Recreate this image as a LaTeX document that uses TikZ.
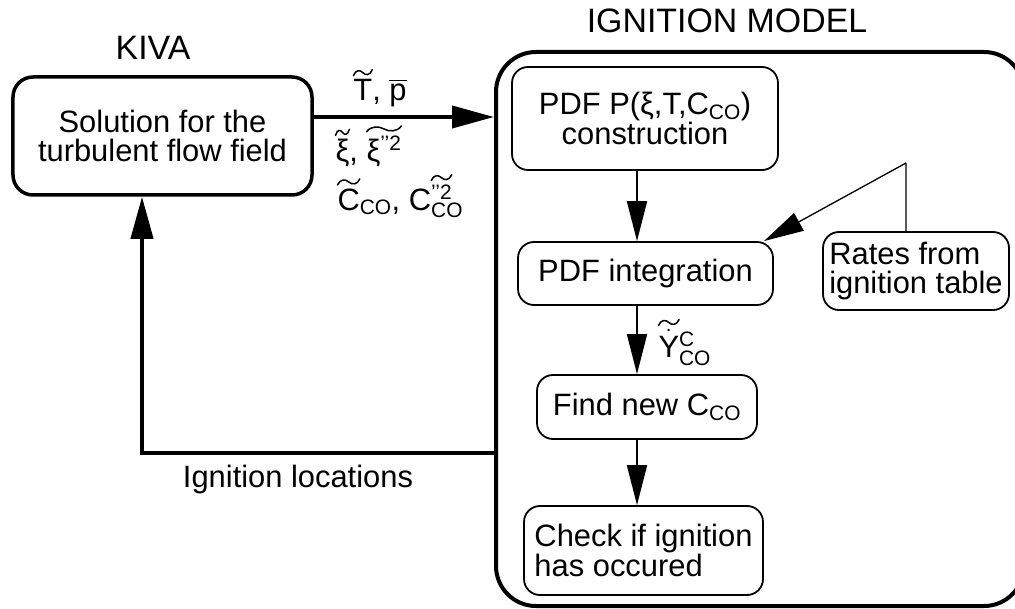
\documentclass[tikz,border=0pt]{standalone}
\usepackage{fix-cm}
\usepackage{amsmath}
\usepackage{fontspec}
\setmainfont{Liberation Sans}
\usetikzlibrary{arrows.meta,calc}
% small size for indices
\newcommand{\sm}{\fontsize{21}{21}\selectfont}
\newcommand{\idx}[1]{\hbox{\sm #1}}
% wide wavy tilde over a piece of text
\newdimen\tilw
\newcommand{\wt}[1]{\setbox0\hbox{#1}\tilw=\wd0\leavevmode\vbox{\offinterlineskip
  \hbox to\tilw{\hss\tikz\draw[line width=1.5bp,line cap=round] (0,0)
    .. controls (.12\tilw,6bp) and (.35\tilw,6bp) .. (.5\tilw,3bp)
    .. controls (.65\tilw,0bp) and (.88\tilw,0bp) .. (\tilw,6bp);\hss}
  \kern3bp\box0}}

\begin{document}
\begin{tikzpicture}[x=1bp,y=-1bp,>={Triangle[length=40bp,width=20bp]},line join=bevel,
  every node/.style={font=\fontsize{31}{30}\selectfont},
  box/.style={draw,rounded corners=16bp,line width=1.8bp,inner sep=0pt,align=center},
  flow/.style={->,line width=1.8bp},
  main/.style={-{Triangle[length=42bp,width=22bp]},line width=4bp,line join=miter}]
\useasboundingbox (0,0) rectangle (1015,609);
%%
  % Node: KIVA
  \node[font=\fontsize{34}{34}\selectfont] (kiva) at (153,48) {KIVA};
  % Node: IGNITION MODEL
  \node[font=\fontsize{34}{34}\selectfont] (title) at (727,21) {IGNITION MODEL};
  % Node: Solution
  \node[box,line width=3.5bp,rounded corners=20bp,minimum width=299bp,minimum height=118bp]
    (sol) at (162.5,136) {Solution for the\\turbulent flow field};
  % Node: Model frame
  \node[draw,line width=4bp,rounded corners=40bp,inner sep=0pt,minimum width=528bp,minimum height=554bp]
    (model) at (760,329) {};
  % Node: Construction
  \node[box,minimum width=266bp,minimum height=103bp] (cons) at (645,118.5)
    {PDF P(ξ,T,C$_{\idx{CO}}$)\\construction};
  % Node: Integration
  \node[box,minimum width=255bp,minimum height=63bp] (integ) at (645.5,273.5) {PDF integration};
  % Node: Find
  \node[box,minimum width=220bp,minimum height=64bp] (find) at (647,407) {Find new C$_{\idx{CO}}$};
  % Node: Check
  \node[box,align=left,minimum width=239bp,minimum height=89bp] (check) at (643.5,550.5)
    {Check if ignition\\has occured};
  % Node: Rates
  \node[box,align=left,minimum width=186bp,minimum height=78bp] (rates) at (916,271)
    {Rates from\\ignition table};
%
  % Edge: Solution -> Model
  \coordinate (feed) at (0,117);
  \draw[main] (sol.east |- feed) -- (model.west |- feed);
  \node (tp) at (380,88) {\wt{T}, $\overline{\hbox{p}}$};
  \node[anchor=west] (xi) at (332,146)
    {\wt{ξ}, \wt{ξ$^{\idx{’’2}}$}};
  \node[anchor=west] (cco) at (334,196)
    {\wt{C}$_{\idx{CO}}$, C$^{\hbox{\wt{\sm ’’2}}}_{\idx{CO}}$};
  % Edge: Model -> Solution
  \coordinate (back) at (142,453);
  \draw[main] (model.west |- back) -- (back) -- (sol.south -| back);
  \node (locs) at (298,480) {Ignition locations};
  % Edge: Construction -> Integration
  \coordinate (spine) at (637,0);
  \draw[flow] (cons.south -| spine) -- (integ.north -| spine);
  % Edge: Integration -> Find
  \draw[flow] (integ.south -| spine) -- (find.north -| spine);
  \node[anchor=west] (ydot) at (655,342)
    {\wt{$\dot{\hbox{Y}}$}$^{\idx{C}}_{\idx{CO}}$};
  % Edge: Find -> Check
  \draw[flow] (find.south -| spine) -- (check.north -| spine);
  % Edge: Rates -> Integration
  \coordinate (kink) at (906,163);
  \draw[flow,line width=1.3bp] (rates.north -| kink) -- (kink) -- ($(integ.north east)+(-10,0)$);
%
\end{tikzpicture}
\end{document}
